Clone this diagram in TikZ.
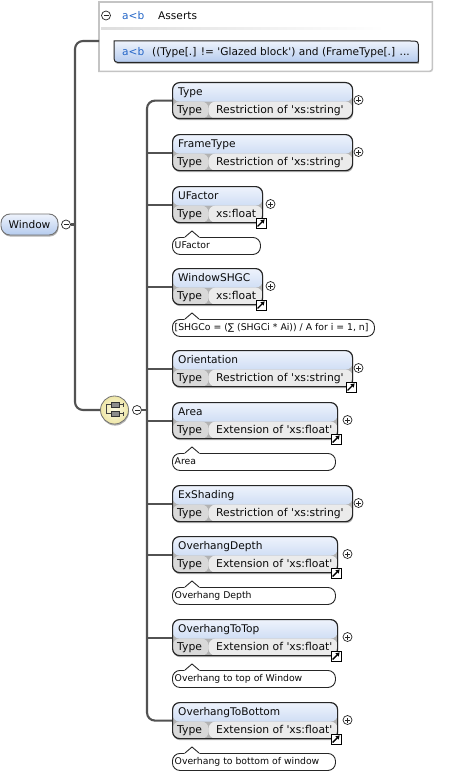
\documentclass[tikz,border=0pt]{standalone}
\usepackage{fontspec}
\setmainfont{DejaVu Sans}
\usetikzlibrary{shadows,arrows.meta,calc}
\definecolor{hdrTop}{HTML}{EEF3FC}
\definecolor{hdrBot}{HTML}{B5CBEE}
\definecolor{cellA}{HTML}{D9D9D9}
\definecolor{cellB}{HTML}{EBEBEB}
\definecolor{bordc}{HTML}{262626}
\definecolor{connc}{HTML}{525252}
\definecolor{abc}{HTML}{2466C8}
\definecolor{assertb}{HTML}{C4C4C4}
\definecolor{txtc}{HTML}{0A0A0A}
\definecolor{seqIn}{HTML}{FCFAE4}
\definecolor{seqOut}{HTML}{EEE6A6}
\newcommand\q{\textquotesingle}
\tikzset{
  conn/.style={draw=connc, line width=2.1pt},
  softshadow/.style={drop shadow={shadow xshift=0.6pt, shadow yshift=-1.6pt, opacity=0.3, fill=black}},
  elembox/.style={draw=bordc, line width=1.2pt, rounded corners=7pt, inner sep=0pt, softshadow,
    path picture={
      \shade[top color=hdrTop, bottom color=hdrBot] (path picture bounding box.north west) rectangle ([yshift=-19pt]path picture bounding box.north east);
      \fill[cellA] ([yshift=-19pt]path picture bounding box.north west) rectangle ([xshift=36pt]path picture bounding box.south west);
      \fill[cellB] ([xshift=36pt,yshift=-19pt]path picture bounding box.north west) rectangle (path picture bounding box.south east);
    }},
  hdrtxt/.style={inner sep=0pt, text=txtc, font=\fontsize{10.6}{12}\selectfont},
  rowtxt/.style={inner sep=0pt, text=txtc, font=\fontsize{10.8}{12}\selectfont},
  anntxt/.style={inner sep=0pt, text=txtc, font=\fontsize{9.3}{11}\selectfont},
  abctxt/.style={inner sep=0pt, text=abc, font=\fontsize{10.6}{12}\selectfont},
  plusbtn/.style={circle, draw=bordc, line width=0.7pt, fill=white, minimum size=9pt, inner sep=0pt,
    path picture={\draw[line width=0.7pt] ([xshift=-2.5pt]path picture bounding box.center) -- ([xshift=2.5pt]path picture bounding box.center) ([yshift=-2.5pt]path picture bounding box.center) -- ([yshift=2.5pt]path picture bounding box.center);}},
  minusbtn/.style={circle, draw=bordc, line width=0.7pt, fill=white, minimum size=9pt, inner sep=0pt,
    path picture={\draw[line width=0.7pt] ([xshift=-2.5pt]path picture bounding box.center) -- ([xshift=2.5pt]path picture bounding box.center);}},
  linkicon/.style={rectangle, draw=black, fill=white, line width=0.9pt, minimum size=10pt, inner sep=0pt,
    path picture={\draw[line width=1.4pt, -{Triangle[length=3.6pt,width=4.4pt]}] ([xshift=-3.4pt,yshift=-3.4pt]path picture bounding box.center) -- ([xshift=3.6pt,yshift=3.6pt]path picture bounding box.center);}},
  annot/.style={rectangle, draw=bordc, line width=0.9pt, fill=white, rounded corners=7.5pt, minimum height=17pt, inner sep=0pt},
  annline/.style={draw=bordc, line width=0.9pt},
  winbox/.style={rectangle, rounded corners=9pt, draw=black!55, line width=0.9pt, top color=hdrTop, bottom color=hdrBot,
    minimum width=57pt, minimum height=21pt, inner sep=0pt, text=txtc, font=\fontsize{10.6}{12}\selectfont, softshadow},
  seqcircle/.style={circle, draw=black!55, line width=0.8pt, inner color=seqIn, outer color=seqOut, minimum size=28pt, inner sep=0pt, softshadow},
}
% #1 name, #2 top, #3 right, #4 header, #5 value, #6 link flag, #7 plus x, #8 annotation, #9 annotation right
\newcommand\xelem[9]{%
  \node[elembox, minimum width={#3-172}, minimum height=36pt, anchor=north west] (#1) at (172,#2) {};
  \node[hdrtxt, anchor=base west] (#1h) at (178,{#2+13.4}) {#4};
  \node[rowtxt, anchor=base west] (#1t) at (177,{#2+31.7}) {Type};
  \node[rowtxt, anchor=base west] (#1v) at (216,{#2+31.7}) {#5};
  \node[plusbtn] (#1p) at (#7,{#2+18}) {};
  \ifnum#6=1 \node[linkicon] (#1l) at ({#3-1},{#2+37}) {};\fi
  \if\relax\detokenize{#8}\relax\else
    \node[annot, minimum width={#9-172}, anchor=north west] (#1a) at (172,{#2+51}) {};
    \fill[white] (184.2,{#2+52}) -- (192,{#2+45}) -- (199.8,{#2+52}) -- cycle;
    \draw[annline] (185,{#2+51}) -- (192,{#2+45}) -- (199,{#2+51});
    \node[anntxt, anchor=base west] (#1at) at (174.5,{#2+62.6}) {#8};
  \fi
}
\begin{document}
\begin{tikzpicture}[x=1pt,y=-1pt]
\fill[white] (0,0) rectangle (449,773);
\useasboundingbox (0,0) rectangle (449,773);

% Asserts box
\node[inner sep=0pt, minimum width=333pt, minimum height=69pt, anchor=north west] (asserts) at (99,2) {};
\draw[draw=assertb, line width=1.6pt, fill=white] (asserts.north west) -- (asserts.north east) -- ([yshift=6pt]asserts.south east) .. controls (asserts.south east) .. ([xshift=-6pt]asserts.south east) -- (asserts.south west) -- cycle;
\shade[left color=black!13, right color=white] (101,27.5) rectangle (385,30);
\node[minusbtn] (am) at (106,15.5) {};
\node[abctxt, anchor=base west] (ah1) at (122,19.3) {a<b};
\node[hdrtxt, anchor=base west] (ah2) at (158,19.3) {Asserts};
\node[inner sep=0pt, minimum width=304pt, minimum height=21pt, anchor=north west] (arow) at (114,41) {};
\draw[draw=bordc, line width=1pt, top color=hdrTop, bottom color=hdrBot, softshadow] (arow.north west) -- ([yshift=8pt]arow.south west) .. controls (arow.south west) .. ([xshift=8pt]arow.south west) -- ([xshift=-2pt]arow.south east) .. controls (arow.south east) .. ([yshift=2pt]arow.south east) -- ([yshift=-8pt]arow.north east) .. controls (arow.north east) .. ([xshift=-8pt]arow.north east) -- cycle;
\node[abctxt, anchor=base west] (ar1) at (122,55.6) {a<b};
\node[hdrtxt, anchor=base west] (ar2) at (152,55.6) {((Type[.] != \q Glazed block\q) and (FrameType[.] ...};

% Window
\node[winbox] (window) at (29.5,224.5) {Window};
\node[minusbtn] (winm) at (66,224.5) {};
\coordinate (spineA) at (75,224.5);

% Sequence compositor
\node[seqcircle] (seq) at (114.5,410) {};
\draw[black!75, line width=0.8pt] (106,404.5) -- (106,413.5) (106,404.5) -- (123,404.5) (106,413.5) -- (123,413.5)
  (123,402.5) -- (123,406.5) (123,411.5) -- (123,415.5);
\fill[black!45, draw=black!80, line width=0.6pt] (111.2,401.8) rectangle (118.8,407.2);
\fill[black!45, draw=black!80, line width=0.6pt] (111.2,410.8) rectangle (118.8,416.2);
\node[minusbtn] (seqm) at (137,410) {};
\coordinate (spineB) at (147,410);

% Elements
\xelem{e1}{82}{352}{Type}{Restriction of \q xs:string\q}{0}{358.5}{}{}
\xelem{e2}{134}{352}{FrameType}{Restriction of \q xs:string\q}{0}{358.5}{}{}
\xelem{e3}{186}{262}{UFactor}{xs:float}{1}{270.5}{UFactor}{260}
\xelem{e4}{268}{262}{WindowSHGC}{xs:float}{1}{270.5}{[SHGCo = (∑ (SHGCi * Ai)) / A for i = 1, n]}{374}
\xelem{e5}{350}{352}{Orientation}{Restriction of \q xs:string\q}{1}{358.5}{}{}
\xelem{e6}{402}{337}{Area}{Extension of \q xs:float\q}{1}{347.5}{Area}{335}
\xelem{e7}{485}{352}{ExShading}{Restriction of \q xs:string\q}{0}{358.5}{}{}
\xelem{e8}{536}{337}{OverhangDepth}{Extension of \q xs:float\q}{1}{347.5}{Overhang Depth}{335}
\xelem{e9}{619}{337}{OverhangToTop}{Extension of \q xs:float\q}{1}{347.5}{Overhang to top of Window}{335}
\xelem{e10}{702}{337}{OverhangToBottom}{Extension of \q xs:float\q}{1}{347.5}{Overhang to bottom of window}{335}

% Connectors
\draw[conn, rounded corners=8pt] (asserts.west |- arow.north) -| (spineA) |- (seq.west);
\draw[conn] (winm.east) -- (spineA);
\draw[conn] (seqm.east) -- (spineB);
\draw[conn, rounded corners=8pt] (e1.west) -| (spineB) |- (e10.west);
\foreach \n in {e2,e3,e4,e5,e6,e7,e8,e9} {\draw[conn] (\n.west) -- (\n.west -| spineB);}
\end{tikzpicture}
\end{document}
